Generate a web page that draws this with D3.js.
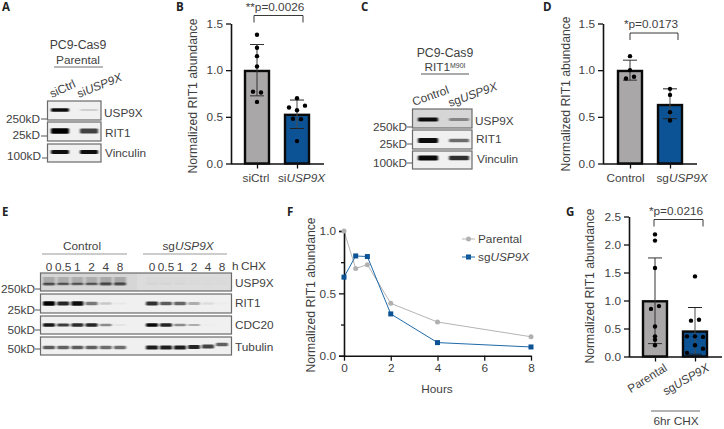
<!DOCTYPE html>
<html>
<head>
<meta charset="utf-8">
<style>
html,body{margin:0;padding:0;background:#fff;}
svg{display:block;}
text{font-family:"Liberation Sans",Arial,sans-serif;fill:#3f3f3f;}
</style>
<script src="https://cdn.jsdelivr.net/npm/d3@7/dist/d3.min.js"></script>
</head>
<body>
<svg id="chart" width="724" height="429"></svg>
<script>
// ---------- data: bar panels ----------
const catsB = ["siCtrl", "si|USP9X"];
const meansB = [1.0, 0.53];
const errLowB = [0.725, 0.375];
const errHighB = [1.275, 0.68];
const pointsB = [
  [1.38, 1.24, 1.15, 1.04, 0.77, 0.76, 0.66],
  [0.70, 0.62, 0.60, 0.57, 0.48, 0.475, 0.24]
];
const jitterB = [
  [0, 0, 0, 0, -4, 4, 0],
  [0, 8, -8, 0, -4, 4, 0]
];
const catsD = ["Control", "sg|USP9X"];
const meansD = [1.0, 0.635];
const errLowD = [0.893, 0.48];
const errHighD = [1.107, 0.80];
const pointsD = [
  [1.15, 1.0, 0.93, 0.91],
  [0.80, 0.735, 0.55, 0.46]
];
const jitterD = [
  [0, 0, 4, -4],
  [0, 0, 0, 0]
];
const catsG = ["Parental", "sg|USP9X"];
const meansG = [1.0, 0.46];
const errLowG = [0.23, 0.04];
const errHighG = [1.76, 0.875];
const pointsG = [
  [2.18, 2.07, 1.58, 0.90, 0.85, 0.535, 0.36, 0.30, 0.20],
  [1.43, 0.655, 0.64, 0.36, 0.36, 0.35, 0.20, 0.14, 0.065]
];
const jitterG = [
  [0, 0, 0, 4, -4, 0, 0, 0, 0],
  [0, 4, -4, -8, 0, 8, 0, 8, -8]
];
// ---------- data: time course ----------
const hours = [0, 0.5, 1, 2, 4, 8];
const parental = [1.0, 0.70, 0.73, 0.42, 0.27, 0.152];
const sgUSP9X = [0.63, 0.80, 0.795, 0.335, 0.105, 0.07];
// ---------- data: western blot band intensities (lanes) ----------
const lanesA = ["siCtrl", "siUSP9X"];
const bandsAUsp = [0.95, 0.14];
const bandsARit = [1.0, 0.72];
const bandsAVin = [0.95, 0.95];
const lanesC = ["Control", "sgUSP9X"];
const bandsCUsp = [0.95, 0.38];
const bandsCRit = [0.95, 0.55];
const bandsCVin = [0.97, 0.8];
const lanesE = ["0", "0.5", "1", "2", "4", "8"];
const bandsEUspCtrl = [0.6, 0.55, 0.55, 0.55, 0.62, 0.62];
const bandsEUspSg = [0.04, 0.04, 0.03, 0.02, 0.02, 0.02];
const bandsERitCtrl = [1.0, 0.85, 0.95, 0.5, 0.17, 0.04];
const bandsERitSg = [0.8, 0.62, 0.58, 0.28, 0.08, 0.02];
const bandsECdcCtrl = [0.9, 0.75, 0.82, 0.85, 0.42, 0.05];
const bandsECdcSg = [0.97, 0.85, 0.42, 0.28, 0.02, 0.0];
const bandsETubCtrl = [0.62, 0.6, 0.62, 0.6, 0.55, 0.55];
const bandsETubSg = [0.88, 0.88, 0.88, 0.85, 0.72, 0.6];

const C_GRAY = "#a9a7a7", C_BLUE = "#0b5394", TXT = "#3f3f3f";
const FS = 11.8;
const svg = d3.select("#chart");

svg.append("defs").append("filter").attr("id", "blur")
  .attr("x", "-20%").attr("y", "-20%").attr("width", "140%").attr("height", "140%")
  .append("feGaussianBlur").attr("stdDeviation", "1 0.6");

function mixed(sel, s) {
  const p = s.split("|");
  sel.text(null);
  sel.append("tspan").text(p[0]);
  if (p[1]) sel.append("tspan").style("font-style", "italic").text(p[1]);
}
function label(x, y, s, opt = {}) {
  const t = svg.append("text").attr("x", x).attr("y", y)
    .attr("font-size", opt.size || FS)
    .attr("text-anchor", opt.anchor || "start");
  if (opt.rotate) t.attr("transform", `rotate(${opt.rotate} ${x} ${y})`);
  if (opt.weight) t.attr("font-weight", opt.weight);
  if (opt.family) t.style("font-family", opt.family);
  mixed(t, s);
  return t;
}
function hline(x1, x2, y, color = "#9a9a9a", w = 1.2) {
  svg.append("line").attr("x1", x1).attr("x2", x2).attr("y1", y).attr("y2", y)
    .attr("stroke", color).attr("stroke-width", w);
}
function styleAxis(g) {
  g.selectAll(".domain").attr("stroke", "#111").attr("stroke-width", 1.6);
  g.selectAll(".tick line").attr("stroke", "#111").attr("stroke-width", 1.3);
  g.selectAll(".tick text").attr("font-size", FS)
    .style("font-family", '"Liberation Sans",Arial,sans-serif').attr("fill", TXT);
}

function barPanel(o) {
  const y = d3.scaleLinear().domain([0, o.yMax]).range([o.y0, o.y1]);
  const xp = d3.scalePoint().domain(o.cats).range(o.centers);
  const g = svg.append("g");
  // bars
  g.selectAll("rect.bar").data(o.cats).join("rect").attr("class", "bar")
    .attr("x", d => xp(d) - o.barW / 2).attr("width", o.barW)
    .attr("y", (d, i) => y(o.means[i]) + 0.8).attr("height", (d, i) => o.y0 - y(o.means[i]) - 0.8)
    .attr("fill", (d, i) => i ? C_BLUE : C_GRAY)
    .attr("stroke", "#0a0a0a").attr("stroke-width", 2.4);
  // error bars
  o.cats.forEach((c, i) => {
    const cx = xp(c);
    const col = i ? "#222" : "#333";
    g.append("line").attr("x1", cx).attr("x2", cx).attr("y1", y(o.lo[i])).attr("y2", y(o.hi[i]))
      .attr("stroke", i && y(o.means[i]) < y(o.lo[i]) ? "#4a4a4a" : col).attr("stroke-width", 1);
    [o.lo[i], o.hi[i]].forEach(v =>
      g.append("line").attr("x1", cx - o.cap).attr("x2", cx + o.cap).attr("y1", y(v)).attr("y2", y(v))
        .attr("stroke", col).attr("stroke-width", 1));
    g.selectAll(null).data(o.points[i]).join("circle")
      .attr("cx", (d, k) => cx + o.jitter[i][k]).attr("cy", d => y(d))
      .attr("r", 2.2).attr("fill", "#000");
  });
  // axes
  const ay = g.append("g").attr("transform", `translate(${o.xAxis},0)`)
    .call(d3.axisLeft(y).tickValues(o.ticks).tickFormat(d3.format(".1f")).tickSize(5).tickSizeOuter(0));
  styleAxis(ay);
  const ax = g.append("g").attr("transform", `translate(0,${o.y0})`)
    .call(d3.axisBottom(xp).tickFormat("").tickSize(5).tickSizeOuter(0));
  styleAxis(ax);
  ax.select(".domain").attr("d", `M${o.xAxis},0.5H${o.xEnd}`);
  // y title
  label(o.ylabX, o.ylabY, "Normalized RIT1 abundance", { anchor: "middle", rotate: -90, size: 12.2 });
  // bracket
  if (o.bracket) {
    const b = o.bracket;
    g.append("path").attr("d", `M${b.x0},${b.y1}V${b.y0}H${b.x1}V${b.y1}`)
      .attr("fill", "none").attr("stroke", "#222").attr("stroke-width", 0.9);
    label(b.tx, b.ty, b.text, { anchor: "middle" });
  }
}

barPanel({ cats: catsB, means: meansB, lo: errLowB, hi: errHighB, points: pointsB, jitter: jitterB,
  yMax: 1.5, y0: 163.5, y1: 23.5, centers: [257, 297], barW: 24, cap: 7, xAxis: 231, xEnd: 324,
  ticks: [0, 0.5, 1, 1.5], ylabX: 197, ylabY: 96,
  bracket: { x0: 254, x1: 303, y0: 15.5, y1: 22.5, tx: 275, ty: 11, text: "**p=0.0026" } });
label(256, 182, "siCtrl", { anchor: "middle" });
label(301.5, 182, "si|USP9X", { anchor: "middle" });

barPanel({ cats: catsD, means: meansD, lo: errLowD, hi: errHighD, points: pointsD, jitter: jitterD,
  yMax: 1.5, y0: 163.5, y1: 23.5, centers: [630, 670], barW: 24, cap: 7, xAxis: 603, xEnd: 697,
  ticks: [0, 0.5, 1, 1.5], ylabX: 570, ylabY: 94,
  bracket: { x0: 630, x1: 678, y0: 33, y1: 40, tx: 651, ty: 28, text: "*p=0.0173" } });
label(625.5, 182, "Control", { anchor: "middle" });
label(682, 182, "sg|USP9X", { anchor: "middle" });

barPanel({ cats: catsG, means: meansG, lo: errLowG, hi: errHighG, points: pointsG, jitter: jitterG,
  yMax: 2.5, y0: 356.5, y1: 216.5, centers: [655, 695], barW: 24, cap: 7, xAxis: 629, xEnd: 722,
  ticks: [0, 0.5, 1, 1.5, 2, 2.5], ylabX: 594, ylabY: 286,
  bracket: { x0: 654, x1: 703, y0: 219.5, y1: 226.5, tx: 676, ty: 215, text: "*p=0.0216" } });
label(668, 370, "Parental", { anchor: "end", rotate: -32 });
label(710, 370, "sg|USP9X", { anchor: "end", rotate: -30 });
hline(651, 700, 411, "#9a9a9a", 1.4);
label(676, 425, "6hr CHX", { anchor: "middle" });

// ---------- time course ----------
(function () {
  const x = d3.scaleLinear().domain([0, 8]).range([344, 531]);
  const y = d3.scaleLinear().domain([0, 1]).range([355.7, 231]);
  const g = svg.append("g");
  const line = d3.line().x((d, i) => x(hours[i])).y(d => y(d));
  g.append("path").datum(parental).attr("d", line).attr("fill", "none").attr("stroke", "#b4b4b4").attr("stroke-width", 1);
  g.append("path").datum(sgUSP9X).attr("d", line).attr("fill", "none").attr("stroke", "#1f6aa8").attr("stroke-width", 1);
  const ay = g.append("g").attr("transform", "translate(344,0)")
    .call(d3.axisLeft(y).tickValues([0, 0.25, 0.5, 0.75, 1]).tickFormat(d => d * 2 % 1 === 0 ? d3.format(".1f")(d) : "").tickSizeOuter(0).tickSize(5));
  styleAxis(ay);
  ay.selectAll(".tick line").attr("x2", d => d * 2 % 1 === 0 ? -5 : -3);
  const ax = g.append("g").attr("transform", "translate(0,355.7)")
    .call(d3.axisBottom(x).tickValues([0, 2, 4, 6, 8]).tickFormat(d3.format("d")).tickSize(5).tickSizeOuter(0));
  styleAxis(ax);
  g.selectAll(null).data(parental).join("circle")
    .attr("cx", (d, i) => x(hours[i])).attr("cy", d => y(d)).attr("r", 2.5).attr("fill", "#b0b0b0");
  g.selectAll(null).data(sgUSP9X).join("rect")
    .attr("x", (d, i) => x(hours[i]) - 2.5).attr("y", d => y(d) - 2.5).attr("width", 5).attr("height", 5)
    .attr("fill", C_BLUE);
  label(315, 295, "Normalized RIT1 abundance", { anchor: "middle", rotate: -90, size: 12.2 });
  label(437, 393, "Hours", { anchor: "middle" });
  // legend
  hline(462, 475, 239, "#b4b4b4", 1);
  g.append("circle").attr("cx", 468.5).attr("cy", 239).attr("r", 2.5).attr("fill", "#b0b0b0");
  label(478, 243, "Parental");
  hline(462, 475, 257, "#1f6aa8", 1);
  g.append("rect").attr("x", 466).attr("y", 254.5).attr("width", 5).attr("height", 5).attr("fill", C_BLUE);
  label(478, 261, "sg|USP9X");
})();

// ---------- western blots ----------
function blotRow(o) {
  const g = svg.append("g");
  g.append("rect").attr("x", o.x0).attr("y", o.y0).attr("width", o.x1 - o.x0).attr("height", o.y1 - o.y0)
    .attr("fill", o.bg || "#f0f0f0");
  if (o.bg2) g.append("rect").attr("x", o.bg2x).attr("y", o.y0).attr("width", o.x1 - o.bg2x)
    .attr("height", o.y1 - o.y0).attr("fill", o.bg2);
  const clipId = "clip" + Math.round(o.x0) + "_" + Math.round(o.y0);
  g.append("clipPath").attr("id", clipId).append("rect")
    .attr("x", o.x0).attr("y", o.y0).attr("width", o.x1 - o.x0).attr("height", o.y1 - o.y0);
  const b = g.append("g").attr("clip-path", `url(#${clipId})`).append("g").attr("filter", "url(#blur)");
  o.sets.forEach(s => {
    const xp = d3.scalePoint().domain(s.lanes).range(s.range);
    s.values.forEach((v, i) => {
      const cx = xp(s.lanes[i]);
      const dy = s.shift ? s.shift[i] : 0;
      const h = o.h * (0.65 + 0.75 * v);
      if (o.smear) b.append("rect").attr("x", cx - o.w / 2).attr("y", o.by - 7 + dy)
        .attr("width", o.w).attr("height", 7).attr("fill", "#000").attr("opacity", v * 0.35);
      b.append("rect").attr("x", cx - o.w / 2).attr("y", o.by - h / 2 + dy)
        .attr("width", o.w).attr("height", h).attr("rx", 1.2)
        .attr("fill", "#000").attr("opacity", Math.min(1, v));
    });
  });
  g.append("rect").attr("x", o.x0).attr("y", o.y0).attr("width", o.x1 - o.x0).attr("height", o.y1 - o.y0)
    .attr("fill", "none").attr("stroke", "#6a6a6a").attr("stroke-width", 1.2);
}
function mw(labelX, tickX0, tickX1, baseY, tickY, s) {
  label(labelX, baseY, s, { anchor: "end" });
  hline(tickX0, tickX1, tickY, "#555", 1);
}

// Panel A
label(78, 49, "PC9-Cas9", { anchor: "middle", size: 12.3 });
label(78, 64, "Parental", { anchor: "middle" });
hline(54, 103, 67, "#a0a0a0", 1.5);
label(52, 98, "siCtrl", { rotate: -25 });
label(79, 98, "si|USP9X", { rotate: -22 });
[[101, 120, 110, bandsAUsp, 2.6], [122, 141, 131, bandsARit, 4], [144, 162, 152, bandsAVin, 3]].forEach(r =>
  blotRow({ x0: 47.5, x1: 101, y0: r[0], y1: r[1], by: r[2], w: 18, h: r[4],
    sets: [{ lanes: lanesA, values: r[3], range: [60, 89] }] }));
label(104, 117, "USP9X"); label(105, 137, "RIT1"); label(105, 157, "Vinculin");
mw(40, 41, 47, 123, 119, "250kD");
mw(40, 41, 47, 139, 136, "25kD");
mw(41, 42, 47, 160, 158, "100kD");

// Panel C
label(445, 57, "PC9-Cas9", { anchor: "middle", size: 12.3 });
svg.append("text").attr("x", 445).attr("y", 71).attr("font-size", FS).attr("text-anchor", "middle")
  .call(t => {
    t.append("tspan").text("RIT1");
    t.append("tspan").attr("font-size", 7).attr("dy", -3.5).text("M90I");
  });
hline(421, 469, 74, "#444", 0.9);
label(414, 106, "Control", { rotate: -20 });
label(450, 107, "sg|USP9X", { rotate: -20 });
[[109, 128, 119.5, bandsCUsp, 3], [130, 149, 140.5, bandsCRit, 3.5], [151, 169, 158, bandsCVin, 3.5]].forEach((r, i) =>
  blotRow({ x0: 412.5, x1: 472, y0: r[0], y1: r[1], by: r[2], w: 20, h: r[4], bg: i === 0 ? "#d6d6d6" : "#f0f0f0",
    sets: [{ lanes: lanesC, values: r[3], range: [428, 459] }] }));
label(475, 125, "USP9X"); label(476, 143, "RIT1"); label(477, 163, "Vinculin");
mw(407, 407, 412, 131, 127, "250kD");
mw(407, 407, 412, 148, 144, "25kD");
mw(407, 407, 412, 167, 163, "100kD");

// Panel E
label(82, 250, "Control", { anchor: "middle" });
label(188, 250, "sg|USP9X", { anchor: "middle" });
hline(42, 127, 254, "#9a9a9a", 1.2);
hline(143, 227, 254, "#9a9a9a", 1.2);
const laneXCtrl = d3.scalePoint().domain(lanesE).range([49, 120]);
const laneXSg = d3.scalePoint().domain(lanesE).range([152, 222]);
lanesE.forEach(l => {
  label(laneXCtrl(l), 271, l, { anchor: "middle" });
  label(laneXSg(l), 271, l, { anchor: "middle" });
});
label(232, 270, "h"); label(241, 270, "CHX");
const rowsE = [
  [273, 291, 284, bandsEUspCtrl, bandsEUspSg, 2.5, true],
  [294, 313, 303.5, bandsERitCtrl, bandsERitSg, 3.2, false],
  [316, 334, 325, bandsECdcCtrl, bandsECdcSg, 2.6, false],
  [337, 355, 347.5, bandsETubCtrl, bandsETubSg, 3.2, false]
];
rowsE.forEach((r, i) => blotRow({
  x0: 40.5, x1: 231.5, y0: r[0], y1: r[1], by: r[2], w: 12, h: r[5], smear: r[6],
  bg: i === 0 ? "#d6d6d6" : "#f0f0f0", bg2: i === 0 ? "#dcdcdc" : null, bg2x: 137,
  sets: [
    { lanes: lanesE, values: r[3], range: [49, 120] },
    { lanes: lanesE, values: r[4], range: [152, 222], shift: i === 3 ? [0, 0, 0, -0.5, -1, -3] : null }
  ]
}));
label(235, 287, "USP9X"); label(235, 307, "RIT1"); label(235, 329, "CDC20"); label(235, 351, "Tubulin");
mw(35, 35, 40, 293, 289, "250kD");
mw(35, 35, 40, 314, 310, "25kD");
mw(35, 35, 40, 334, 330, "50kD");
mw(35, 35, 40, 353, 349, "50kD");

// Panel letters
[["A", 2, 11], ["B", 176, 11], ["C", 361, 11], ["D", 543, 11], ["E", 2, 216], ["F", 287, 216], ["G", 566, 216]]
  .forEach(d => label(d[1], d[2], d[0], { weight: 700, size: 11.5, family: '"Open Sans",sans-serif' }).style("fill", "#222"));
</script>
</body>
</html>
